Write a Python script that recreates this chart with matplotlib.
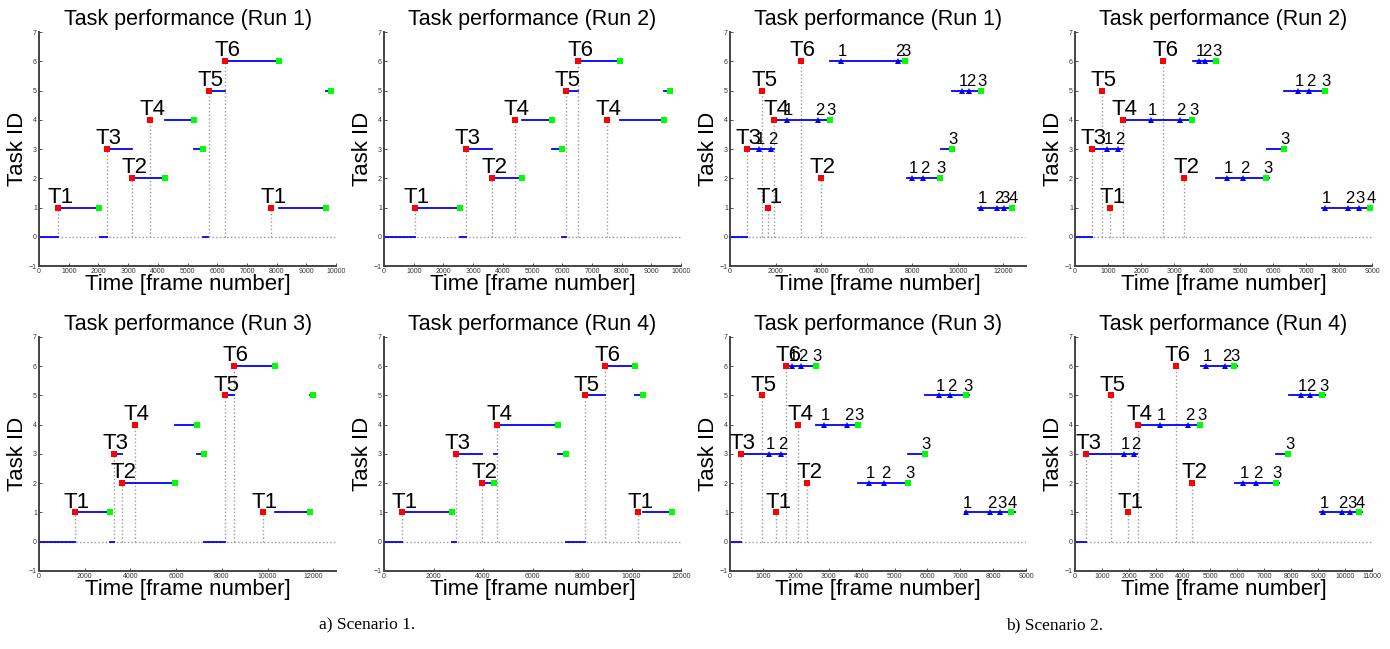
import matplotlib
matplotlib.use('Agg')
import matplotlib.pyplot as plt

plt.rcParams['font.family'] = ['Liberation Sans', 'DejaVu Sans']

# ---- Scenario 1 ----
# Run 1
s1r1_start_x = [650, 2280, 3130, 3740, 5710, 6260, 7820]
s1r1_start_y = [1, 3, 2, 4, 5, 6, 1]
s1r1_start_lbl = ['T1', 'T3', 'T2', 'T4', 'T5', 'T6', 'T1']
s1r1_seg = [(0, 650, 0), (650, 2030, 1), (2050, 2280, 0), (2280, 3140, 3), (3130, 4230, 2),
            (4240, 5220, 4), (5220, 5510, 3), (5530, 5700, 0), (5710, 6260, 5), (6260, 8090, 6),
            (8090, 9660, 1), (9660, 9830, 5)]
s1r1_end_x = [2030, 4230, 5220, 5510, 8090, 9660, 9830]
s1r1_end_y = [1, 2, 4, 3, 6, 1, 5]

# Run 2
s1r2_start_x = [1030, 2750, 3650, 4400, 6110, 6540, 7490]
s1r2_start_y = [1, 3, 2, 4, 5, 6, 4]
s1r2_start_lbl = ['T1', 'T3', 'T2', 'T4', 'T5', 'T6', 'T4']
s1r2_seg = [(0, 1030, 0), (1030, 2570, 1), (2570, 2750, 0), (2750, 3650, 3), (3650, 4650, 2),
            (4650, 5670, 4), (5670, 5980, 3), (5980, 6110, 0), (6110, 6540, 5), (6540, 7940, 6),
            (7940, 9440, 4), (9440, 9630, 5)]
s1r2_end_x = [2570, 4650, 5670, 5980, 7940, 9440, 9630]
s1r2_end_y = [1, 2, 4, 3, 6, 4, 5]

# Run 3
s1r3_start_x = [1560, 3260, 3610, 4190, 8130, 8520, 9790]
s1r3_start_y = [1, 3, 2, 4, 5, 6, 1]
s1r3_start_lbl = ['T1', 'T3', 'T2', 'T4', 'T5', 'T6', 'T1']
s1r3_seg = [(0, 1560, 0), (1560, 3100, 1), (3100, 3260, 0), (3260, 3610, 3), (3610, 5940, 2),
            (5940, 6920, 4), (6920, 7220, 3), (7220, 8130, 0), (8130, 8520, 5), (8520, 10310, 6),
            (10310, 11840, 1), (11840, 12010, 5)]
s1r3_end_x = [3100, 5940, 6920, 7220, 10310, 11840, 12010]
s1r3_end_y = [1, 2, 4, 3, 6, 1, 5]

# Run 4
s1r4_start_x = [740, 2900, 3960, 4580, 8100, 8940, 10270]
s1r4_start_y = [1, 3, 2, 4, 5, 6, 1]
s1r4_start_lbl = ['T1', 'T3', 'T2', 'T4', 'T5', 'T6', 'T1']
s1r4_seg = [(0, 740, 0), (740, 2750, 1), (2750, 2900, 0), (2900, 3960, 3), (3960, 4440, 2),
            (4440, 4580, 3), (4580, 7010, 4), (7010, 7340, 3), (7340, 8100, 0), (8100, 8940, 5),
            (8940, 10130, 6), (10130, 10460, 5), (10460, 11640, 1)]
s1r4_end_x = [2750, 4440, 7010, 7340, 10130, 10460, 11640]
s1r4_end_y = [1, 2, 4, 3, 6, 5, 1]

# ---- Scenario 2 ----
# Run 1
s2r1_start_x = [730, 1420, 1650, 1930, 3100, 3980]
s2r1_start_y = [3, 5, 1, 4, 6, 2]
s2r1_start_lbl = ['T3', 'T5', 'T1', 'T4', 'T6', 'T2']
s2r1_seg = [(0, 730, 0), (730, 1930, 3), (1930, 4390, 4), (4390, 7680, 6), (7760, 9320, 2),
            (9250, 9730, 3), (9760, 11020, 5), (10900, 12440, 1)]
s2r1_sub_x = [1270, 1810, 2490, 3860, 4860, 7390, 8010, 8490, 10190, 10510, 11020, 11740, 12030]
s2r1_sub_y = [3, 3, 4, 4, 6, 6, 2, 2, 5, 5, 1, 1, 1]
s2r1_sub_lbl = ['1', '2', '1', '2', '1', '2', '1', '2', '1', '2', '1', '2', '3']
s2r1_end_x = [4390, 7680, 9220, 9730, 11020, 12370]
s2r1_end_y = [4, 6, 2, 3, 5, 1]
s2r1_end_lbl = ['3', '3', '3', '3', '3', '4']

# Run 2
s2r2_start_x = [506, 810, 1060, 1440, 2680, 3310]
s2r2_start_y = [3, 5, 1, 4, 6, 2]
s2r2_start_lbl = ['T3', 'T5', 'T1', 'T4', 'T6', 'T2']
s2r2_seg = [(0, 506, 0), (506, 1420, 3), (1440, 3610, 4), (3560, 4330, 6), (4280, 5870, 2),
            (5810, 6320, 3), (6340, 7610, 5), (7480, 9000, 1)]
s2r2_sub_x = [960, 1310, 2300, 3170, 3770, 3950, 4600, 5090, 6760, 7090, 7560, 8280, 8600]
s2r2_sub_y = [3, 3, 4, 4, 6, 6, 2, 2, 5, 5, 1, 1, 1]
s2r2_sub_lbl = ['1', '2', '1', '2', '1', '2', '1', '2', '1', '2', '1', '2', '3']
s2r2_end_x = [3550, 4270, 5800, 6320, 7560, 8930]
s2r2_end_y = [4, 6, 2, 3, 5, 1]
s2r2_end_lbl = ['3', '3', '3', '3', '3', '4']

# Run 3
s2r3_start_x = [320, 960, 1400, 1700, 2080, 2350]
s2r3_start_y = [3, 5, 1, 6, 4, 2]
s2r3_start_lbl = ['T3', 'T5', 'T1', 'T6', 'T4', 'T2']
s2r3_seg = [(0, 320, 0), (320, 1700, 3), (1700, 2680, 6), (2610, 3940, 4), (3880, 5480, 2),
            (5420, 5920, 3), (5930, 7260, 5), (7130, 8650, 1)]
s2r3_sub_x = [1170, 1550, 1880, 2170, 2850, 3570, 4210, 4690, 6360, 6690, 7180, 7910, 8220]
s2r3_sub_y = [3, 3, 6, 6, 4, 4, 2, 2, 5, 5, 1, 1, 1]
s2r3_sub_lbl = ['1', '2', '1', '2', '1', '2', '1', '2', '1', '2', '1', '2', '3']
s2r3_end_x = [2610, 3880, 5420, 5920, 7180, 8540]
s2r3_end_y = [6, 4, 2, 3, 5, 1]
s2r3_end_lbl = ['3', '3', '3', '3', '3', '4']

# Run 4
s2r4_start_x = [410, 1320, 1970, 2320, 3730, 4330]
s2r4_start_y = [3, 5, 1, 4, 6, 2]
s2r4_start_lbl = ['T3', 'T5', 'T1', 'T4', 'T6', 'T2']
s2r4_seg = [(0, 410, 0), (410, 2310, 3), (2320, 4720, 4), (4650, 6000, 6), (5910, 7540, 2),
            (7430, 7910, 3), (7920, 9270, 5), (9060, 10630, 1)]
s2r4_sub_x = [1820, 2200, 3160, 4200, 4860, 5570, 6220, 6700, 8360, 8690, 9170, 9880, 10190]
s2r4_sub_y = [3, 3, 4, 4, 6, 6, 2, 2, 5, 5, 1, 1, 1]
s2r4_sub_lbl = ['1', '2', '1', '2', '1', '2', '1', '2', '1', '2', '1', '2', '3']
s2r4_end_x = [4640, 5880, 7430, 7890, 9160, 10520]
s2r4_end_y = [4, 6, 2, 3, 5, 1]
s2r4_end_lbl = ['3', '3', '3', '3', '3', '4']


def draw_panel(ax, title, xmax, xstep, tick_max, dot_end, start_x, start_y, start_lbl, seg,
               end_x, end_y, end_lbl=None, sub_x=None, sub_y=None, sub_lbl=None):
    # dotted guide lines
    ax.plot([0, dot_end], [0, 0], color='#999999', ls=':', lw=1, zorder=1)
    for x, y in zip(start_x, start_y):
        ax.plot([x, x], [0, y], color='#999999', ls=':', lw=1, zorder=1)
    # execution intervals
    for x0, x1, y in seg:
        ax.plot([x0, x1], [y, y], color='#0000ff', lw=1.3, zorder=2)
    if sub_x is not None:
        ax.plot(sub_x, sub_y, '^', color='#0000ff', ms=5, mew=0, zorder=3)
        for x, y, l in zip(sub_x, sub_y, sub_lbl):
            ax.annotate(l, (x, y), xytext=(1, 3.5), textcoords='offset points',
                        ha='center', va='baseline', fontsize=12)
    ax.plot(end_x, end_y, 's', color='#00ff00', ms=4, mew=0, zorder=4)
    if end_lbl is not None:
        for x, y, l in zip(end_x, end_y, end_lbl):
            ax.annotate(l, (x, y), xytext=(1, 3.5), textcoords='offset points',
                        ha='center', va='baseline', fontsize=12)
    ax.plot(start_x, start_y, 's', color='#ff0000', ms=4, mew=0, zorder=4)
    for x, y, l in zip(start_x, start_y, start_lbl):
        ax.annotate(l, (x, y), xytext=(1.5, 3.5), textcoords='offset points',
                    ha='center', va='baseline', fontsize=16)

    ax.set_xlim(0, xmax)
    ax.set_ylim(-1, 7)
    ax.set_xticks(range(0, tick_max + 1, xstep))
    ax.set_yticks(range(-1, 8))
    ax.tick_params(direction='in', length=2, width=0.6, labelsize=5, pad=1.5,
                   colors='#333333', labelcolor='#333333')
    for s in ['top', 'right']:
        ax.spines[s].set_visible(False)
    for s in ['left', 'bottom']:
        ax.spines[s].set_color('#444444')
        ax.spines[s].set_linewidth(1.4)
    ax.set_title(title, fontsize=15.5, pad=5)
    ax.set_xlabel('Time [frame number]', fontsize=16, labelpad=-1)
    ax.set_ylabel('Task ID', fontsize=16, labelpad=1)


fig = plt.figure(figsize=(13.9, 6.49), dpi=100)
h = 0.3606
ax1 = fig.add_axes([0.0281, 0.590, 0.2137, h])
ax2 = fig.add_axes([0.2763, 0.590, 0.2137, h])
ax3 = fig.add_axes([0.0281, 0.1202, 0.2137, h])
ax4 = fig.add_axes([0.2763, 0.1202, 0.2137, h])
ax5 = fig.add_axes([0.5252, 0.590, 0.2130, h])
ax6 = fig.add_axes([0.7734, 0.590, 0.2137, h])
ax7 = fig.add_axes([0.5252, 0.1202, 0.2130, h])
ax8 = fig.add_axes([0.7734, 0.1202, 0.2137, h])

draw_panel(ax1, 'Task performance (Run 1)', 10000, 1000, 10000, 9950,
           s1r1_start_x, s1r1_start_y, s1r1_start_lbl, s1r1_seg, s1r1_end_x, s1r1_end_y)
draw_panel(ax2, 'Task performance (Run 2)', 10000, 1000, 10000, 9970,
           s1r2_start_x, s1r2_start_y, s1r2_start_lbl, s1r2_seg, s1r2_end_x, s1r2_end_y)
draw_panel(ax3, 'Task performance (Run 3)', 13000, 2000, 12000, 12930,
           s1r3_start_x, s1r3_start_y, s1r3_start_lbl, s1r3_seg, s1r3_end_x, s1r3_end_y)
draw_panel(ax4, 'Task performance (Run 4)', 12000, 2000, 12000, 12000,
           s1r4_start_x, s1r4_start_y, s1r4_start_lbl, s1r4_seg, s1r4_end_x, s1r4_end_y)

draw_panel(ax5, 'Task performance (Run 1)', 13000, 2000, 12000, 12950,
           s2r1_start_x, s2r1_start_y, s2r1_start_lbl, s2r1_seg, s2r1_end_x, s2r1_end_y,
           s2r1_end_lbl, s2r1_sub_x, s2r1_sub_y, s2r1_sub_lbl)
draw_panel(ax6, 'Task performance (Run 2)', 9000, 1000, 9000, 9000,
           s2r2_start_x, s2r2_start_y, s2r2_start_lbl, s2r2_seg, s2r2_end_x, s2r2_end_y,
           s2r2_end_lbl, s2r2_sub_x, s2r2_sub_y, s2r2_sub_lbl)
draw_panel(ax7, 'Task performance (Run 3)', 9000, 1000, 9000, 9000,
           s2r3_start_x, s2r3_start_y, s2r3_start_lbl, s2r3_seg, s2r3_end_x, s2r3_end_y,
           s2r3_end_lbl, s2r3_sub_x, s2r3_sub_y, s2r3_sub_lbl)
draw_panel(ax8, 'Task performance (Run 4)', 11000, 1000, 11000, 11000,
           s2r4_start_x, s2r4_start_y, s2r4_start_lbl, s2r4_seg, s2r4_end_x, s2r4_end_y,
           s2r4_end_lbl, s2r4_sub_x, s2r4_sub_y, s2r4_sub_lbl)

fig.text(0.264, 0.037, 'a) Scenario 1.', family='Liberation Serif', fontsize=12.5,
         ha='center', va='center')
fig.text(0.759, 0.037, 'b) Scenario 2.', family='Liberation Serif', fontsize=12.5,
         ha='center', va='center')

fig.savefig('out.png', dpi=100)
